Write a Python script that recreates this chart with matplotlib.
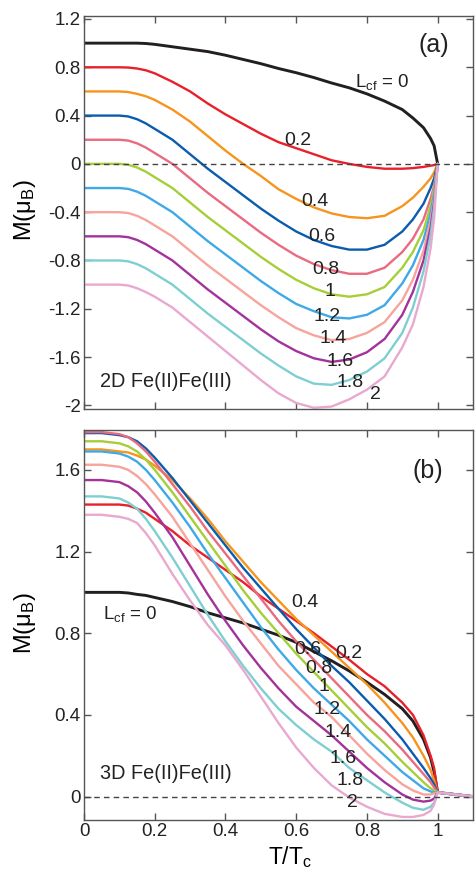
import matplotlib
matplotlib.use("Agg")
import matplotlib.pyplot as plt

plt.rcParams["font.family"] = ["Liberation Sans", "DejaVu Sans"]
plt.rcParams["mathtext.fontset"] = "custom"
plt.rcParams["mathtext.rm"] = "Liberation Sans"
plt.rcParams["mathtext.it"] = "Liberation Sans:italic"
plt.rcParams["axes.unicode_minus"] = False

# ---------------------------------------------------------------
# data
# ---------------------------------------------------------------
t_2d = [0, 0.05, 0.1, 0.125, 0.15, 0.175, 0.2, 0.25, 0.3, 0.35, 0.4, 0.45, 0.5, 0.55,
        0.6, 0.65, 0.7, 0.75, 0.8, 0.85, 0.9, 0.93, 0.96, 0.98, 0.99, 1.0]

m2d_00 = [1.0, 1.0, 1.0, 1.0, 1.0, 0.997, 0.99, 0.97, 0.95, 0.93, 0.9, 0.865, 0.83, 0.79,
          0.755, 0.715, 0.67, 0.63, 0.58, 0.52, 0.45, 0.38, 0.3, 0.21, 0.15, 0.0]
m2d_02 = [0.8, 0.8, 0.8, 0.798, 0.79, 0.775, 0.75, 0.68, 0.6, 0.5, 0.41, 0.33, 0.25, 0.18,
          0.13, 0.08, 0.03, 0.0, -0.025, -0.04, -0.04, -0.035, -0.025, -0.015, -0.01, 0.0]
m2d_04 = [0.6, 0.6, 0.6, 0.595, 0.58, 0.56, 0.53, 0.45, 0.35, 0.23, 0.11, 0.0, -0.1, -0.21,
          -0.29, -0.36, -0.41, -0.44, -0.45, -0.43, -0.35, -0.28, -0.19, -0.12, -0.07, 0.0]
m2d_06 = [0.4, 0.4, 0.4, 0.393, 0.37, 0.335, 0.29, 0.2, 0.08, -0.04, -0.15, -0.26, -0.37, -0.47,
          -0.56, -0.63, -0.68, -0.71, -0.71, -0.67, -0.56, -0.46, -0.33, -0.2, -0.12, 0.0]
m2d_08 = [0.2, 0.2, 0.2, 0.193, 0.17, 0.135, 0.09, 0.0, -0.12, -0.24, -0.35, -0.46, -0.57, -0.67,
          -0.76, -0.83, -0.88, -0.91, -0.91, -0.86, -0.73, -0.62, -0.46, -0.29, -0.18, 0.0]
m2d_10 = [0.0, 0.0, 0.0, -0.007, -0.03, -0.065, -0.11, -0.2, -0.32, -0.44, -0.55, -0.66, -0.77, -0.87,
          -0.96, -1.03, -1.08, -1.1, -1.08, -1.02, -0.86, -0.73, -0.55, -0.35, -0.21, 0.0]
m2d_12 = [-0.2, -0.2, -0.2, -0.207, -0.23, -0.265, -0.31, -0.4, -0.52, -0.64, -0.75, -0.86, -0.97, -1.07,
          -1.16, -1.22, -1.27, -1.28, -1.25, -1.17, -0.99, -0.84, -0.63, -0.41, -0.25, 0.0]
m2d_14 = [-0.4, -0.4, -0.4, -0.407, -0.43, -0.465, -0.51, -0.6, -0.72, -0.84, -0.95, -1.06, -1.17, -1.27,
          -1.36, -1.42, -1.46, -1.45, -1.40, -1.31, -1.13, -0.96, -0.72, -0.47, -0.29, 0.0]
m2d_16 = [-0.6, -0.6, -0.6, -0.607, -0.63, -0.665, -0.71, -0.8, -0.92, -1.04, -1.15, -1.26, -1.37, -1.47,
          -1.55, -1.61, -1.64, -1.62, -1.56, -1.45, -1.25, -1.06, -0.80, -0.53, -0.32, 0.0]
m2d_18 = [-0.8, -0.8, -0.8, -0.807, -0.83, -0.865, -0.91, -1.0, -1.12, -1.24, -1.35, -1.46, -1.57, -1.67,
          -1.76, -1.82, -1.83, -1.79, -1.72, -1.61, -1.40, -1.19, -0.89, -0.59, -0.36, 0.0]
m2d_20 = [-1.0, -1.0, -1.0, -1.007, -1.03, -1.062, -1.1, -1.19, -1.31, -1.43, -1.55, -1.67, -1.79, -1.9,
          -1.98, -2.02, -2.01, -1.95, -1.87, -1.76, -1.52, -1.33, -1.02, -0.7, -0.45, 0.0]

t_3d = [0, 0.05, 0.1, 0.125, 0.15, 0.175, 0.2, 0.25, 0.3, 0.35, 0.4, 0.45, 0.5, 0.55,
        0.6, 0.65, 0.7, 0.75, 0.8, 0.85, 0.9, 0.93, 0.96, 0.98, 0.99, 1.0, 1.1]

m3d_00 = [1.0, 1.0, 1.0, 0.997, 0.99, 0.985, 0.975, 0.955, 0.93, 0.9, 0.875, 0.85, 0.82, 0.79,
          0.755, 0.71, 0.665, 0.615, 0.56, 0.5, 0.43, 0.37, 0.28, 0.19, 0.12, 0.02, 0.0]
m3d_02 = [1.43, 1.43, 1.43, 1.425, 1.41, 1.39, 1.36, 1.30, 1.23, 1.17, 1.11, 1.05, 0.98, 0.92,
          0.86, 0.8, 0.735, 0.67, 0.6, 0.54, 0.46, 0.4, 0.3, 0.2, 0.14, 0.02, 0.0]
m3d_04 = [1.70, 1.70, 1.69, 1.685, 1.67, 1.65, 1.62, 1.55, 1.46, 1.36, 1.25, 1.15, 1.05, 0.96,
          0.87, 0.79, 0.71, 0.63, 0.55, 0.46, 0.36, 0.29, 0.2, 0.13, 0.08, 0.02, 0.0]
m3d_06 = [1.78, 1.78, 1.77, 1.76, 1.74, 1.705, 1.66, 1.56, 1.45, 1.34, 1.23, 1.12, 1.02, 0.92,
          0.82, 0.73, 0.64, 0.56, 0.47, 0.38, 0.28, 0.21, 0.14, 0.09, 0.06, 0.02, 0.0]
m3d_08 = [1.785, 1.785, 1.775, 1.76, 1.73, 1.69, 1.64, 1.53, 1.42, 1.3, 1.19, 1.08, 0.97, 0.86,
          0.76, 0.67, 0.58, 0.49, 0.4, 0.32, 0.23, 0.17, 0.11, 0.07, 0.045, 0.02, 0.0]
m3d_10 = [1.74, 1.74, 1.73, 1.715, 1.69, 1.65, 1.6, 1.49, 1.37, 1.25, 1.13, 1.01, 0.9, 0.8,
          0.7, 0.61, 0.52, 0.43, 0.34, 0.26, 0.17, 0.12, 0.07, 0.04, 0.03, 0.02, 0.0]
m3d_12 = [1.69, 1.69, 1.68, 1.665, 1.64, 1.6, 1.55, 1.44, 1.32, 1.19, 1.07, 0.95, 0.83, 0.72,
          0.62, 0.53, 0.45, 0.37, 0.28, 0.2, 0.12, 0.08, 0.04, 0.025, 0.02, 0.02, 0.0]
m3d_14 = [1.625, 1.625, 1.615, 1.6, 1.57, 1.53, 1.48, 1.37, 1.24, 1.11, 0.98, 0.86, 0.75, 0.64,
          0.55, 0.46, 0.39, 0.3, 0.21, 0.13, 0.06, 0.03, 0.01, 0.01, 0.015, 0.02, 0.0]
m3d_16 = [1.55, 1.55, 1.54, 1.52, 1.49, 1.445, 1.39, 1.27, 1.13, 0.99, 0.86, 0.74, 0.63, 0.53,
          0.44, 0.37, 0.3, 0.22, 0.14, 0.07, 0.01, -0.015, -0.025, -0.02, -0.01, 0.02, 0.0]
m3d_18 = [1.47, 1.47, 1.46, 1.44, 1.41, 1.36, 1.3, 1.17, 1.03, 0.89, 0.76, 0.64, 0.53, 0.43,
          0.35, 0.28, 0.22, 0.14, 0.08, 0.02, -0.03, -0.055, -0.065, -0.05, -0.03, 0.02, 0.0]
m3d_20 = [1.38, 1.38, 1.37, 1.36, 1.34, 1.29, 1.23, 1.09, 0.96, 0.84, 0.74, 0.62, 0.49, 0.36,
          0.24, 0.14, 0.055, -0.005, -0.05, -0.085, -0.1, -0.1, -0.09, -0.07, -0.04, 0.02, 0.0]

lcf_values = ["0", "0.2", "0.4", "0.6", "0.8", "1", "1.2", "1.4", "1.6", "1.8", "2"]
colors = ["#231f20", "#e8202a", "#f7941d", "#0b5cad", "#ea6a7f", "#a6ce39",
          "#3fa9e8", "#f6a49c", "#a3339b", "#7ecfd1", "#e9a9cf"]

series_2d = [m2d_00, m2d_02, m2d_04, m2d_06, m2d_08, m2d_10,
             m2d_12, m2d_14, m2d_16, m2d_18, m2d_20]
series_3d = [m3d_00, m3d_02, m3d_04, m3d_06, m3d_08, m3d_10,
             m3d_12, m3d_14, m3d_16, m3d_18, m3d_20]

x_ticks = [0, 0.2, 0.4, 0.6, 0.8, 1]
x_ticklabels = ["0", "0.2", "0.4", "0.6", "0.8", "1"]
y_ticks_2d = [1.2, 0.8, 0.4, 0, -0.4, -0.8, -1.2, -1.6, -2]
y_ticklabels_2d = ["1.2", "0.8", "0.4", "0", "-0.4", "-0.8", "-1.2", "-1.6", "-2"]
y_ticks_3d = [0, 0.4, 0.8, 1.2, 1.6]
y_ticklabels_3d = ["0", "0.4", "0.8", "1.2", "1.6"]

# curve labels: (text, T, M)
labels_2d = [("0.2", 0.565, 0.155), ("0.4", 0.615, -0.345), ("0.6", 0.635, -0.635),
             ("0.8", 0.645, -0.915), ("1", 0.68, -1.095), ("1.2", 0.65, -1.3),
             ("1.4", 0.665, -1.48), ("1.6", 0.685, -1.67), ("1.8", 0.715, -1.85),
             ("2", 0.81, -1.95)]
labels_3d = [("0.4", 0.585, 0.93), ("0.6", 0.595, 0.70), ("0.2", 0.71, 0.68),
             ("0.8", 0.625, 0.605), ("1", 0.662, 0.515), ("1.2", 0.65, 0.405),
             ("1.4", 0.68, 0.29), ("1.6", 0.695, 0.165), ("1.8", 0.715, 0.055),
             ("2", 0.745, -0.05)]

txt_col = "#222222"

# ---------------------------------------------------------------
# figure
# ---------------------------------------------------------------
fig = plt.figure(figsize=(4.76, 8.73), dpi=100)
ax_a = fig.add_axes([0.1765, 0.5315, 0.8172, 0.4502])
ax_b = fig.add_axes([0.1765, 0.0607, 0.8172, 0.4467])

spine_col = "#555555"
for ax in (ax_a, ax_b):
    ax.set_xlim(0, 1.1)
    ax.set_xticks(x_ticks)
    ax.tick_params(direction="in", length=5, width=1, top=True, right=True, pad=2.5,
                   color=spine_col, labelsize=13.5, labelcolor=txt_col)
    for sp in ax.spines.values():
        sp.set_color(spine_col)
        sp.set_linewidth(1.0)
    ax.axhline(0, color="#444444", lw=1.0, ls=(0, (4, 3)), zorder=5)

# panel (a)
for i, m in enumerate(series_2d):
    lw = 2.1 if i == 0 else 1.7
    ax_a.plot(t_2d, m, color=colors[i], lw=lw, solid_capstyle="round")
ax_a.set_ylim(-2.03, 1.225)
ax_a.set_yticks(y_ticks_2d)
ax_a.set_yticklabels(y_ticklabels_2d)
ax_a.set_xticklabels([])
ax_a.set_ylabel("M(μ$_{\\rm B}$)", fontsize=17)
ax_a.yaxis.set_label_coords(-0.118, 0.506)
ax_a.text(0.765, 0.64, "L$_{\\rm cf}$ = 0", fontsize=13.5, color=txt_col)
ax_a.text(0.945, 0.93, "(a)", fontsize=18, color=txt_col)
ax_a.text(0.045, -1.845, "2D Fe(II)Fe(III)", fontsize=14.3, color=txt_col)
for txt, x, y in labels_2d:
    ax_a.text(x, y, txt, fontsize=14, color=txt_col)

# panel (b): black first, colours on top
for i, m in enumerate(series_3d):
    lw = 2.1 if i == 0 else 1.7
    ax_b.plot(t_3d, m, color=colors[i], lw=lw, solid_capstyle="round")
ax_b.set_ylim(-0.115, 1.795)
ax_b.set_yticks(y_ticks_3d)
ax_b.set_yticklabels(y_ticklabels_3d)
ax_b.set_xticklabels(x_ticklabels)
ax_b.set_ylabel("M(μ$_{\\rm B}$)", fontsize=17)
ax_b.yaxis.set_label_coords(-0.118, 0.505)
ax_b.set_xlabel("T/T$_{\\rm c}$", fontsize=16.5)
ax_b.xaxis.set_label_coords(0.53, -0.063)
ax_b.text(0.055, 0.87, "L$_{\\rm cf}$ = 0", fontsize=13.5, color=txt_col)
ax_b.text(0.93, 1.56, "(b)", fontsize=18, color=txt_col)
ax_b.text(0.045, 0.085, "3D Fe(II)Fe(III)", fontsize=14.3, color=txt_col)
for txt, x, y in labels_3d:
    ax_b.text(x, y, txt, fontsize=14, color=txt_col)

fig.savefig("out.png", dpi=100)
